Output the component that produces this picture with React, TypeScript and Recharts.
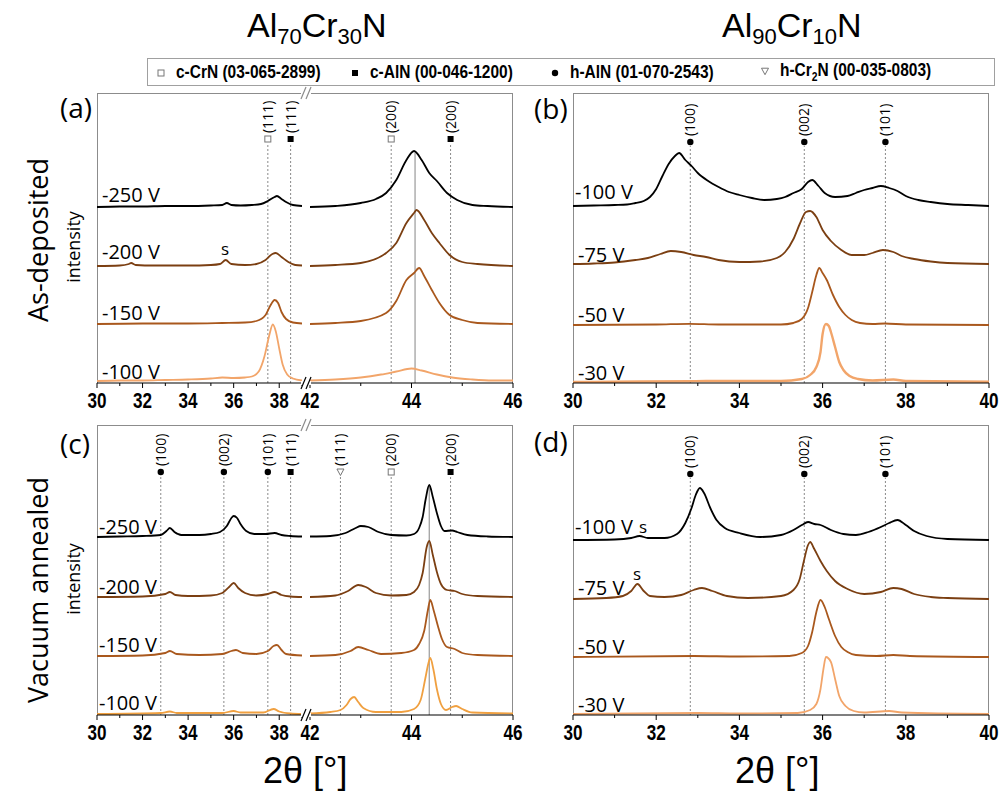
import React from "react";
import { LineChart, Line, XAxis, YAxis, ReferenceLine, ReferenceDot } from "recharts";

type Pt = [number, number];

// ---------- (a) Al70Cr30N as-deposited ----------
const a250: Pt[] = [
  [30, 0], [31, 0.5], [32, 0.5], [33, 1], [34, 1], [35, 1.5], [35.5, 2], [35.7, 4], [35.9, 2], [36.3, 1.5],
  [36.8, 2], [37.2, 3], [37.5, 6], [37.8, 10], [37.9, 11], [38.1, 8], [38.3, 5], [38.6, 2], [39, 1],
  [42, 0], [42.5, 1], [43, 4], [43.3, 8], [43.5, 14], [43.7, 27], [43.9, 47], [44.05, 56], [44.2, 47],
  [44.35, 34], [44.5, 26], [44.7, 14], [44.9, 7], [45.2, 2], [45.5, 1], [46, 0],
];
const a200: Pt[] = [
  [30, 0], [31, 0.5], [31.4, 2], [31.5, 3], [31.7, 1], [32.5, 0.5], [34, 0.5], [35, 1], [35.4, 2], [35.65, 6],
  [35.9, 2], [36.5, 1], [37, 2], [37.4, 6], [37.7, 12], [37.85, 13], [38.1, 9], [38.4, 4], [38.7, 1], [39, 0.5],
  [42, 0], [42.5, 1], [43, 3], [43.5, 13], [43.7, 23], [43.9, 43], [44.05, 53], [44.1, 56], [44.25, 46],
  [44.4, 33], [44.55, 23], [44.75, 11], [45, 4], [45.3, 2], [46, 0],
];
const a150: Pt[] = [
  [30, 0], [32, 0.5], [34, 0.5], [35.5, 1], [36.5, 1.5], [37, 3], [37.4, 9], [37.6, 18], [37.8, 24],
  [37.95, 21], [38.1, 12], [38.3, 5], [38.6, 1.5], [39, 0.5],
  [42, 0], [42.5, 1], [43, 3], [43.5, 11], [43.7, 23], [43.9, 44], [44.05, 51], [44.15, 56], [44.25, 48],
  [44.4, 34], [44.55, 21], [44.75, 9], [45, 4], [45.3, 1], [46, 0],
];
const a100: Pt[] = [
  [30, 0.5], [31, 1], [32, 1], [33, 1.5], [34, 2], [35, 3], [35.5, 4], [36, 3.5], [36.5, 4], [36.8, 5],
  [37.1, 10], [37.35, 25], [37.55, 45], [37.72, 57], [37.85, 50], [38, 33], [38.15, 17], [38.35, 7],
  [38.6, 3], [39, 1],
  [42, 1], [42.5, 2], [43, 4], [43.4, 7], [43.7, 10], [44, 13], [44.2, 11], [44.5, 7], [44.8, 4],
  [45.2, 2], [45.6, 1], [46, 1],
];

// ---------- (b) Al90Cr10N as-deposited ----------
const b100: Pt[] = [
  [30, 0], [30.5, 0.5], [31, 1], [31.3, 1.5], [31.5, 3], [31.7, 5], [31.85, 9], [32, 17], [32.15, 30],
  [32.3, 42], [32.45, 50], [32.55, 53], [32.7, 46], [32.85, 40], [33, 33], [33.25, 25], [33.5, 19],
  [33.75, 14], [34, 11], [34.3, 8], [34.6, 6], [34.9, 7], [35.1, 9], [35.3, 13], [35.5, 17], [35.65, 24],
  [35.75, 26], [35.9, 20], [36.05, 13], [36.3, 9], [36.6, 10], [36.8, 13], [37, 16], [37.2, 18], [37.4, 20],
  [37.6, 18], [37.8, 15], [38, 10], [38.3, 6], [38.6, 4], [39, 2], [39.5, 1], [40, 0],
];
const b75: Pt[] = [
  [30, 0], [30.5, 0.5], [31, 1.5], [31.5, 4], [31.8, 6], [32.1, 10], [32.35, 13], [32.6, 12], [32.9, 9],
  [33.2, 7], [33.5, 4], [34, 2], [34.5, 2.5], [34.9, 6], [35.1, 12], [35.3, 25], [35.45, 40], [35.6, 52],
  [35.7, 53], [35.85, 47], [36, 34], [36.2, 23], [36.45, 14], [36.7, 9], [37, 9], [37.2, 11], [37.45, 14],
  [37.7, 12], [37.9, 8], [38.2, 5], [38.6, 2.5], [39, 1], [40, 0],
];
const b50: Pt[] = [
  [30, 0], [32, 0.5], [32.8, 1.2], [33.5, 0.5], [35, 0.5], [35.3, 2], [35.5, 6], [35.65, 17], [35.75, 33],
  [35.85, 50], [35.92, 57], [36, 52], [36.1, 45], [36.25, 30], [36.4, 18], [36.55, 10], [36.7, 5],
  [36.9, 2], [37.2, 1], [37.5, 1.5], [38, 0.5], [40, 0],
];
const b30: Pt[] = [
  [30, 0], [31, 0.3], [32.8, 0.8], [33.2, 1], [35, 1], [35.5, 3], [35.7, 7], [35.85, 15], [35.95, 30],
  [36, 48], [36.08, 58], [36.15, 56], [36.2, 50], [36.3, 35], [36.4, 20], [36.5, 12], [36.65, 6],
  [36.85, 3], [37.2, 1.5], [37.7, 2.5], [38, 1], [40, 0.3],
];

// ---------- (c) Al70Cr30N vacuum annealed ----------
const c250: Pt[] = [
  [30, 0], [31, 0.5], [32, 1], [32.8, 2], [33.05, 6], [33.2, 9], [33.4, 5], [33.7, 2], [34.5, 2], [35, 3],
  [35.4, 5], [35.7, 11], [35.9, 19], [36, 21], [36.15, 19], [36.3, 13], [36.55, 6], [36.9, 3], [37.4, 3],
  [37.8, 4], [38.1, 2], [38.5, 1], [39, 0.5],
  [42, 0.5], [42.4, 1], [42.7, 4], [42.9, 9], [43, 11], [43.15, 10], [43.35, 5], [43.6, 2], [43.9, 1.5],
  [44.05, 3], [44.15, 9], [44.22, 20], [44.28, 38], [44.35, 52], [44.42, 40], [44.5, 24], [44.58, 11],
  [44.65, 6], [44.8, 6.5], [44.9, 5], [45.1, 2], [45.5, 0.5], [46, 0],
];
const c200: Pt[] = [
  [30, 0], [32, 0.5], [33, 3], [33.2, 5], [33.45, 2], [34, 1], [35, 1.5], [35.5, 4], [35.8, 10], [36, 14],
  [36.2, 9], [36.5, 4], [37, 1.5], [37.5, 3], [37.8, 5], [38.1, 2], [38.5, 0.5], [39, 0],
  [42, 0], [42.5, 1.5], [42.75, 6], [42.95, 12], [43.1, 10], [43.3, 4], [43.6, 1.5], [43.9, 2], [44.05, 5],
  [44.15, 12], [44.22, 24], [44.3, 50], [44.35, 56], [44.42, 42], [44.5, 25], [44.58, 13], [44.7, 7],
  [44.85, 6], [45, 3], [45.3, 1], [46, 0],
];
const c150: Pt[] = [
  [30, 0], [32, 0.5], [33, 3], [33.2, 5], [33.5, 2], [34.5, 1], [35.5, 2], [35.9, 5], [36.1, 6], [36.4, 3],
  [37, 2], [37.5, 5], [37.75, 10], [37.9, 11], [38.1, 6], [38.3, 2], [39, 0.5],
  [42, 0], [42.5, 1], [42.8, 5], [42.95, 9], [43.15, 6], [43.4, 2], [43.8, 3], [44.05, 6], [44.15, 12],
  [44.25, 25], [44.32, 45], [44.37, 56], [44.44, 45], [44.52, 30], [44.6, 17], [44.7, 9], [44.85, 7],
  [45, 3], [45.3, 1], [46, 0],
];
const c100: Pt[] = [
  [30, 0], [32.8, 1], [33.2, 2.5], [33.5, 1], [35.5, 1], [36, 3], [36.3, 1.5], [37.3, 1.5], [37.75, 5],
  [38, 2.5], [38.5, 0.5], [39, 0],
  [42, 0.5], [42.4, 2], [42.6, 4], [42.72, 9], [42.8, 15], [42.87, 17], [42.95, 12], [43.05, 6], [43.3, 2],
  [43.8, 2], [44.05, 5], [44.18, 14], [44.27, 35], [44.33, 50], [44.37, 56], [44.43, 45], [44.5, 25],
  [44.58, 10], [44.68, 4], [44.8, 7], [44.88, 8], [45, 5], [45.2, 1.5], [46, 0.5],
];

// ---------- (d) Al90Cr10N vacuum annealed ----------
const d100: Pt[] = [
  [30, 0], [31, 0.5], [31.4, 2], [31.6, 4], [31.8, 2], [32.2, 2], [32.5, 6], [32.7, 17], [32.85, 32],
  [32.95, 45], [33.05, 52], [33.15, 47], [33.3, 32], [33.45, 20], [33.65, 12], [34, 7], [34.5, 3], [35, 5],
  [35.3, 10], [35.5, 15], [35.65, 18], [35.8, 16], [35.95, 15], [36.2, 10], [36.5, 6], [36.8, 5], [37.1, 8],
  [37.4, 13], [37.6, 17], [37.8, 20], [38, 15], [38.2, 9], [38.5, 4], [39, 1], [40, 0],
];
const d75: Pt[] = [
  [30, 0], [30.8, 1], [31.2, 3], [31.4, 8], [31.55, 15], [31.7, 8], [31.85, 3], [32.2, 2], [32.6, 4],
  [32.9, 9], [33.1, 11], [33.35, 8], [33.7, 3], [34.2, 1], [35, 3], [35.3, 9], [35.45, 20], [35.55, 38],
  [35.65, 54], [35.7, 57], [35.8, 50], [35.95, 38], [36.1, 28], [36.3, 18], [36.6, 10], [37, 5], [37.4, 7],
  [37.7, 11], [37.9, 10], [38.2, 5], [38.6, 2], [39, 1], [40, 0],
];
const d50: Pt[] = [
  [30, 0], [32.9, 1], [34, 0.5], [35.2, 1], [35.5, 4], [35.65, 11], [35.75, 25], [35.85, 45], [35.95, 57],
  [36.05, 50], [36.15, 38], [36.3, 21], [36.45, 10], [36.6, 5], [36.8, 2], [37.3, 1], [37.7, 2], [38.1, 1],
  [40, 0],
];
const d30: Pt[] = [
  [30, 0], [33, 1], [34, 0.5], [35.4, 1], [35.7, 4], [35.85, 10], [35.95, 25], [36.02, 45], [36.08, 57],
  [36.2, 52], [36.3, 35], [36.4, 18], [36.55, 8], [36.75, 3], [37, 1.5], [37.6, 3], [37.9, 1.5], [40, 0],
];

// stacking offsets (bottom curve last)
const aOffsets = [176, 117, 59, 1.5];
const bOffsets = [177, 119, 58, 1];
const cOffsets = [178, 118, 59, 1];
const dOffsets = [175, 116, 58, 1];

const aLabels = ["-250 V", "-200 V", "-150 V", "-100 V"];
const bLabels = ["-100 V", "-75 V", "-50 V", "-30 V"];

// reference peak positions
type Peak = { x: number; kind: "crn" | "aln" | "haln" | "cr2n"; label: string };
const aPeaks: Peak[] = [
  { x: 37.5, kind: "crn", label: "(111)" },
  { x: 38.5, kind: "aln", label: "(111)" },
  { x: 43.6, kind: "crn", label: "(200)" },
  { x: 44.77, kind: "aln", label: "(200)" },
];
const hPeaks: Peak[] = [
  { x: 32.82, kind: "haln", label: "(100)" },
  { x: 35.56, kind: "haln", label: "(002)" },
  { x: 37.51, kind: "haln", label: "(101)" },
];
const cPeaks: Peak[] = [
  { x: 32.8, kind: "haln", label: "(100)" },
  { x: 35.57, kind: "haln", label: "(002)" },
  { x: 37.5, kind: "haln", label: "(101)" },
  { x: 38.5, kind: "aln", label: "(111)" },
  { x: 42.6, kind: "cr2n", label: "(111)" },
  { x: 43.6, kind: "crn", label: "(200)" },
  { x: 44.77, kind: "aln", label: "(200)" },
];

const leftTicks = [30, 31, 32, 33, 34, 35, 36, 37, 38, 39];
const rightTicks = [42, 43, 44, 45, 46];
const fullTicks = [30, 31, 32, 33, 34, 35, 36, 37, 38, 39, 40];

const legendItems: { kind: Peak["kind"]; name: string; sub?: string; rest: string }[] = [
  { kind: "crn", name: "c-CrN", rest: " (03-065-2899)" },
  { kind: "aln", name: "c-AlN", rest: " (00-046-1200)" },
  { kind: "haln", name: "h-AlN", rest: " (01-070-2543)" },
  { kind: "cr2n", name: "h-Cr", sub: "2", rest: "N (00-035-0803)" },
];

const K = "#000000";
const BROWN = "#7b3f12";
const MID = "#a9581d";
const LIGHT = "#f2a56a";
const ORANGE = "#f0a040";

const NARROW = "'Liberation Sans Narrow', 'Arial Narrow', 'Liberation Sans', sans-serif";
const SANS = "'Open Sans', 'Noto Sans', sans-serif";
const PH = 290;
const PAD = 20;

type Curve = { pts: Pt[]; off: number; color: string; w?: number };

function AxisTick(props: any) {
  const { x, y, payload } = props;
  const v = payload.value;
  const major = v % 2 === 0;
  return (
    <g>
      <line x1={x} x2={x} y1={y} y2={y + (major ? 5 : 3)} stroke="#000" strokeWidth={1} />
      {major && (
        <text
          x={x} y={y + 25} textAnchor="middle" fontFamily={NARROW} fontWeight="bold" fontSize={22} fill="#000"
          textLength={19} lengthAdjust="spacingAndGlyphs"
        >
          {v}
        </text>
      )}
    </g>
  );
}

function PeakMark(props: any) {
  const { cx, cy, kind, label } = props;
  let sym: React.ReactNode = null;
  if (kind === "crn") sym = <rect x={cx - 3} y={cy - 3} width={6} height={6} fill="#fff" stroke="#777" strokeWidth={1} />;
  if (kind === "aln") sym = <rect x={cx - 3} y={cy - 3} width={6} height={6} fill="#000" />;
  if (kind === "haln") sym = <circle cx={cx} cy={cy} r={3.2} fill="#000" />;
  if (kind === "cr2n")
    sym = <path d={`M${cx - 3.5},${cy - 3} L${cx + 3.5},${cy - 3} L${cx},${cy + 3.5} Z`} fill="#fff" stroke="#777" strokeWidth={1} />;
  const tx = cx + 5;
  const ty = cy - 6;
  return (
    <g>
      {sym}
      {label && (
        <text x={tx} y={ty} transform={`rotate(-90 ${tx} ${ty})`} fontFamily={SANS} fontSize={14} fill="#000">
          {label}
        </text>
      )}
    </g>
  );
}

function Seg(props: {
  left: number; top: number; width: number; domain: [number, number]; ticks: number[];
  curves: Curve[]; peaks: Peak[]; markerY: number; solid?: { x: number; h: number };
  borderLeft?: boolean; borderRight?: boolean;
}) {
  const { left, top, width, domain, ticks, curves, peaks, markerY, solid, borderLeft, borderRight } = props;
  const inside = (x: number) => x >= domain[0] && x <= domain[1];
  const shown = peaks.filter((p) => inside(p.x));
  return (
    <>
      <div
        style={{
          position: "absolute", left, top, width, height: PH, boxSizing: "border-box",
          borderTop: "1px solid #8c8c8c",
          borderLeft: borderLeft ? "1px solid #8c8c8c" : "none",
          borderRight: borderRight ? "1px solid #8c8c8c" : "none",
        }}
      />
      <div style={{ position: "absolute", left: left - PAD, top }}>
        <LineChart width={width + 2 * PAD} height={PH + 40} margin={{ top: 0, right: PAD, bottom: 0, left: PAD }}>
          <XAxis
            dataKey="x" type="number" domain={domain} ticks={ticks} allowDataOverflow interval={0}
            tick={(p: any) => <AxisTick {...p} />} tickLine={false} tickSize={0} tickMargin={0}
            axisLine={{ stroke: "#000", strokeWidth: 1.2 }} height={40}
          />
          <YAxis hide type="number" domain={[0, PH]} allowDataOverflow />
          {shown.map((p, i) => (
            <ReferenceLine
              key={"l" + i}
              segment={[{ x: p.x, y: 0 }, { x: p.x, y: markerY - 4 }]}
              stroke="#8a8a8a" strokeDasharray="2 2" strokeWidth={1}
            />
          ))}
          {solid && inside(solid.x) && (
            <ReferenceLine segment={[{ x: solid.x, y: 0 }, { x: solid.x, y: solid.h }]} stroke="#9a9a9a" strokeWidth={1.2} />
          )}
          {curves.map((c, i) => (
            <Line
              key={"c" + i}
              data={c.pts.filter((p) => inside(p[0])).map(([x, y]) => ({ x, y: y + c.off }))}
              dataKey="y" type="monotone" dot={false} stroke={c.color} strokeWidth={c.w ?? 1.8}
              isAnimationActive={false}
            />
          ))}
          {shown.map((p, i) => (
            <ReferenceDot
              key={"d" + i} x={p.x} y={markerY} r={3}
              shape={(sp: any) => <PeakMark {...sp} kind={p.kind} label={p.label} />}
            />
          ))}
        </LineChart>
      </div>
    </>
  );
}

function Txt(props: { x: number; y: number; size: number; children: React.ReactNode; font?: string; weight?: any; rot?: boolean }) {
  const { x, y, size, children, font, weight, rot } = props;
  return (
    <div
      style={{
        position: "absolute", left: x, top: y, fontSize: size, fontFamily: font ?? SANS, fontWeight: weight ?? "normal",
        whiteSpace: "nowrap", lineHeight: 1, color: "#000",
        transform: rot ? "translate(-50%, -50%) rotate(-90deg)" : "translateY(-50%)",
      }}
    >
      {children}
    </div>
  );
}

function Brk({ x, y, color }: { x: number; y: number; color: string }) {
  return (
    <svg style={{ position: "absolute", left: x - 8, top: y - 10 }} width={20} height={20}>
      <rect x={3} y={8} width={10} height={4} fill="#fff" />
      <line x1={3} y1={16} x2={8} y2={4} stroke={color} strokeWidth={1.2} />
      <line x1={8} y1={16} x2={13} y2={4} stroke={color} strokeWidth={1.2} />
    </svg>
  );
}

function LegendSym({ kind }: { kind: Peak["kind"] }) {
  return (
    <svg width={10} height={10} style={{ verticalAlign: "middle" }}>
      <PeakMark cx={5} cy={5} kind={kind} label="" />
    </svg>
  );
}

export default function App() {
  const aCurves: Curve[] = [
    { pts: a250, off: aOffsets[0], color: K },
    { pts: a200, off: aOffsets[1], color: BROWN },
    { pts: a150, off: aOffsets[2], color: MID },
    { pts: a100, off: aOffsets[3], color: LIGHT },
  ];
  const bCurves: Curve[] = [
    { pts: b100, off: bOffsets[0], color: K },
    { pts: b75, off: bOffsets[1], color: BROWN },
    { pts: b50, off: bOffsets[2], color: MID },
    { pts: b30, off: bOffsets[3], color: LIGHT, w: 2.4 },
  ];
  const cCurves: Curve[] = [
    { pts: c250, off: cOffsets[0], color: K },
    { pts: c200, off: cOffsets[1], color: BROWN },
    { pts: c150, off: cOffsets[2], color: MID },
    { pts: c100, off: cOffsets[3], color: ORANGE },
  ];
  const dCurves: Curve[] = [
    { pts: d100, off: dOffsets[0], color: K },
    { pts: d75, off: dOffsets[1], color: BROWN },
    { pts: d50, off: dOffsets[2], color: MID },
    { pts: d30, off: dOffsets[3], color: LIGHT },
  ];

  const T1 = 93;
  const T2 = 425;
  const labelYa = [195, 252, 313, 372];
  const labelYb = [192, 255, 315, 373];
  const labelYc = [527, 587, 645, 703];
  const labelYd = [527, 588, 647, 705];
  const legendX = [156, 350, 550, 760];

  return (
    <div style={{ position: "absolute", left: 0, top: 0, width: 1001, height: 794, background: "#fff", overflow: "hidden" }}>
      {/* column titles */}
      <Txt x={247} y={28} size={34} font={NARROW}>
        Al<sub style={{ fontSize: 22 }}>70</sub>Cr<sub style={{ fontSize: 22 }}>30</sub>N
      </Txt>
      <Txt x={722} y={28} size={34} font={NARROW}>
        Al<sub style={{ fontSize: 22 }}>90</sub>Cr<sub style={{ fontSize: 22 }}>10</sub>N
      </Txt>

      {/* legend */}
      <div style={{ position: "absolute", left: 147, top: 58, width: 848, height: 28, boxSizing: "border-box", border: "1px solid #a0a0a0" }} />
      {legendItems.map((it, i) => (
        <div
          key={i}
          style={{
            position: "absolute", left: legendX[i], top: 72, transform: "translateY(-50%)", fontFamily: NARROW,
            fontWeight: "bold", fontSize: 18, whiteSpace: "nowrap", lineHeight: 1,
          }}
        >
          <LegendSym kind={it.kind} />
          <span style={{ display: "inline-block", marginLeft: 10, transformOrigin: "left center", transform: "scaleX(0.86)" }}>
            {it.name}
            {it.sub && <sub style={{ fontSize: 12 }}>{it.sub}</sub>}
            {it.rest}
          </span>
        </div>
      ))}

      {/* row labels */}
      <Txt x={37} y={240} size={27} rot>As-deposited</Txt>
      <Txt x={37} y={590} size={27} rot>Vacuum annealed</Txt>
      <Txt x={73} y={247} size={18} rot>intensity</Txt>
      <Txt x={73} y={579} size={18} rot>intensity</Txt>

      {/* panel letters */}
      <Txt x={60} y={107} size={28}>(a)</Txt>
      <Txt x={534} y={108} size={28}>(b)</Txt>
      <Txt x={60} y={443} size={28}>(c)</Txt>
      <Txt x={534} y={441} size={28}>(d)</Txt>

      {/* (a) */}
      <Seg left={97} top={T1} width={205} domain={[30, 39]} ticks={leftTicks} curves={aCurves} peaks={aPeaks} markerY={244} borderLeft />
      <Seg left={310} top={T1} width={203} domain={[42, 46]} ticks={rightTicks} curves={aCurves} peaks={aPeaks} markerY={244} borderRight solid={{ x: 44.07, h: 232 }} />
      <Brk x={306} y={T1} color="#8c8c8c" />
      <Brk x={306} y={T1 + PH} color="#000" />

      {/* (b) */}
      <Seg left={573} top={T1} width={416} domain={[30, 40]} ticks={fullTicks} curves={bCurves} peaks={hPeaks} markerY={241} borderLeft borderRight />

      {/* (c) */}
      <Seg left={97} top={T2} width={205} domain={[30, 39]} ticks={leftTicks} curves={cCurves} peaks={cPeaks} markerY={243} borderLeft />
      <Seg left={310} top={T2} width={203} domain={[42, 46]} ticks={rightTicks} curves={cCurves} peaks={cPeaks} markerY={243} borderRight solid={{ x: 44.35, h: 230 }} />
      <Brk x={306} y={T2} color="#8c8c8c" />
      <Brk x={306} y={T2 + PH} color="#000" />

      {/* (d) */}
      <Seg left={573} top={T2} width={416} domain={[30, 40]} ticks={fullTicks} curves={dCurves} peaks={hPeaks} markerY={241} borderLeft borderRight />

      {/* curve labels */}
      {aLabels.map((l, i) => <Txt key={"la" + i} x={102} y={labelYa[i]} size={20}>{l}</Txt>)}
      {bLabels.map((l, i) => <Txt key={"lb" + i} x={i === 0 ? 575 : 578} y={labelYb[i]} size={20}>{l}</Txt>)}
      {aLabels.map((l, i) => <Txt key={"lc" + i} x={99} y={labelYc[i]} size={20}>{l}</Txt>)}
      {bLabels.map((l, i) => <Txt key={"ld" + i} x={i === 0 ? 575 : 578} y={labelYd[i]} size={20}>{l}</Txt>)}
      <Txt x={221} y={248} size={17}>s</Txt>
      <Txt x={639} y={526} size={17}>s</Txt>
      <Txt x={633} y={573} size={17}>s</Txt>

      {/* axis titles */}
      <Txt x={263} y={771} size={36} font={NARROW}>2θ [°]</Txt>
      <Txt x={735} y={771} size={36} font={NARROW}>2θ [°]</Txt>
    </div>
  );
}
